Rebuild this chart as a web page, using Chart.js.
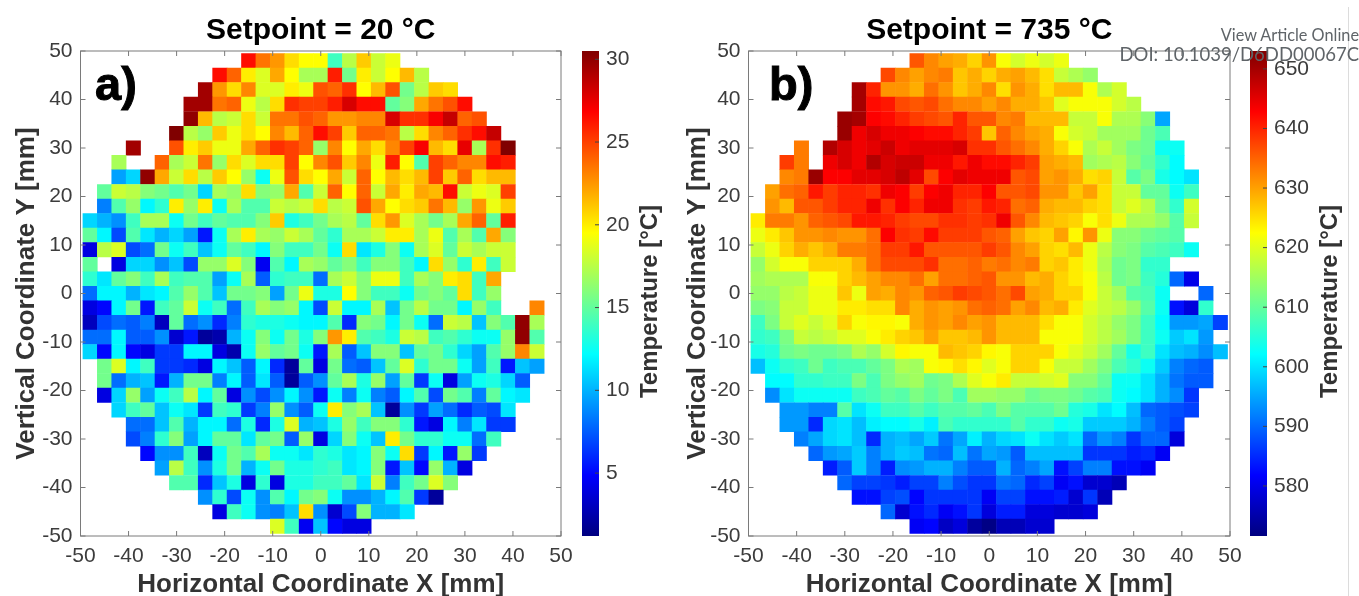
<!DOCTYPE html>
<html><head><meta charset="utf-8">
<script src="https://cdn.jsdelivr.net/npm/chart.js@4"></script>
<style>
html,body{margin:0;padding:0;background:#fff;width:1359px;height:596px;overflow:hidden;font-family:"Liberation Sans",Arial,sans-serif}
canvas{position:absolute;top:0}
#rule{position:absolute;left:1348px;top:7px;width:1px;height:589px;background:#dcdcdc}
.note{position:absolute;right:0;font-family:Lato,sans-serif;color:#5f6468;white-space:nowrap;z-index:5}
</style></head><body>
<canvas id="mapA" width="600" height="596" style="left:0"></canvas>
<canvas id="barA" width="110" height="596" style="left:570px"></canvas>
<canvas id="mapB" width="580" height="596" style="left:680px"></canvas>
<canvas id="barB" width="119" height="596" style="left:1240px"></canvas>
<div id="rule"></div>
<div class="note" style="top:25px;font-size:16.3px">View Article Online</div>
<div class="note" style="top:43px;font-size:18.5px">DOI: 10.1039/D6DD00067C</div>
<script>
const _ = null;
const gridX = [-48,-45,-42,-39,-36,-33,-30,-27,-24,-21,-18,-15,-12,-9,-6,-3,0,3,6,9,12,15,18,21,24,27,30,33,36,39,42,45,48];
const gridY = [48,45,42,39,36,33,30,27,24,21,18,15,12,9,6,3,0,-3,-6,-9,-12,-15,-18,-21,-24,-27,-30,-33,-36,-39,-42,-45,-48];
const axisTicks = [-50,-40,-30,-20,-10,0,10,20,30,40,50];
const ticksA = [5,10,15,20,25,30];
const ticksB = [580,590,600,610,620,630,640,650];
const rangeA = [1.2,30.5];
const rangeB = [571.6,653];
const titleA = "Setpoint = 20 °C", titleB = "Setpoint = 735 °C";
const tempA = [
[_,_,_,_,_,_,_,_,_,_,_,26.5,23.5,22.5,20.5,19.5,19.5,14,17.5,21,18,19],
[_,_,_,_,_,_,_,_,_,26.5,24,20,18.5,22,19.5,17,17,26,15.5,20,18,19.5,21.5,17.5],
[_,_,_,_,_,_,_,_,29.5,22.5,20.5,23,18.5,18.5,20,19,24.5,24,25.5,19.5,21.5,24.5,15.5,17.5,21,20.5],
[_,_,_,_,_,_,_,29.5,29.5,23.5,24,19,17.5,20.5,25.5,25,25,26,28,26.5,26.5,15,16,22,23.5,24.5,26.5],
[_,_,_,_,_,_,_,30,21.5,17.5,18,20.5,18,23.5,23.5,24.5,24,22.5,22.5,23,23,28,25.5,25.5,27,28.5,24,24.5],
[_,_,_,_,_,_,30.5,17.5,16.5,21,19,20.5,19.5,23,21.5,24,26.5,25,21,24,24,23.5,17.5,20.5,23,24,25.5,26.5,28.5],
[_,_,_,29.5,_,_,24.5,20,21,19,19,22,24,25.5,25,24,16.5,23,19.5,22,20.5,23,25,27,21.5,20.5,27.5,17,25.5,30.5],
[_,_,17,_,_,24,17,18,23.5,16.5,20.5,18.5,20.5,20.5,25,19.5,23,24.5,21,23,19,26,19.5,14.5,25,24,23,23,26.5,26],
[_,_,9.5,11,30,22,18,20.5,17.5,21,19.5,16.5,12.5,19,24.5,20.5,19.5,22,18,24,19.5,21.5,20.5,21.5,25,21,24,20.5,21.5,21.5],
[_,15,18,17.5,16,15.5,14.5,15.5,11,17,16.5,20.5,16,16.5,22,14.5,18,24,19.5,24,18,22,20,22,21.5,26.5,18,19,18.5,25],
[_,8.5,14.5,16.5,12,13.5,20,16.5,20,12.5,17,14.5,14.5,18,17.5,18,20.5,17.5,18,24.5,22,19.5,20.5,21,23.5,21.5,16.5,22.5,19,21],
[11,10,9,14,17,17,12.5,15.5,14,15,14.5,14.5,16,21,13,14,15.5,17,17.5,15,20.5,22.5,18.5,17,15.5,17,22,24,15,26],
[15,12,7,14.5,11.5,10,11,9.5,5.5,12.5,17,20,17,16.5,18,17,15,13.5,17,17,18,20,20,17,19,14.5,17,14.5,22,16],
[4,17.5,18.5,7,8,15.5,12.5,14,10.5,12.5,15,14,12,16,14,14,15.5,12.5,20.5,11.5,13,16,12.5,17,18.5,15,18,17,18,18],
[15,_,4,11,11,9,10.5,7,16.5,16.5,18.5,16,4.5,14.5,12,17,16.5,15,16,14,16,16,14,12,20.5,16.5,13.5,20,14,18],
[13.5,11.5,15,16,14,17,14,14.5,14.5,9.5,12.5,17,7.5,13.5,14,14,8,17,18,16,19,19,14,17,16,20,20.5,14,22],
[8,12,12,10,11.5,12,14.5,16.5,14.5,10.5,15.5,15.5,16,9.5,15.5,19,13,13,19.5,16,14,14,12.5,15.5,16,15,20.5,14,16.5],
[4,5,12,15.5,5.5,14,15,18,12.5,14,8,14,17,16,16.5,12,7,18,12,12,17,10.5,15.5,17.5,15.5,15.5,12,16.5,14,_,_,23],
[3,7,8,7.5,8.5,3,15,8,9,6,8.5,13.5,13,13,12.5,12,12,14.5,6,16,15.5,12,15.5,12.5,8,18,17.5,10.5,16,14.5,30,17],
[8,8,12,7.5,7.5,9,3.5,5.5,2,2.5,10,12.5,16,12.5,15.5,13,16,22.5,20,14.5,14,13,18,17.5,14,14.5,13.5,12.5,12.5,16.5,30,14.5],
[11,5,12,5,4,6.5,6.5,12,12,4,2.5,12.5,16.5,15,15.5,12.5,5.5,17,7.5,10.5,16,16,10.5,15,15.5,13.5,11,9.5,14.5,16.5,23,18],
[_,15.5,18.5,12,14,6.5,6.5,6,4,12,10.5,7.5,12,6,2,15,4,15.5,8,7.5,10.5,15,18.5,13.5,15.5,15.5,12.5,9.5,14,5.5,10.5,9.5],
[_,15.5,8,10,10.5,5.5,10,15.5,15.5,8.5,12,7.5,11.5,7.5,2,7.5,9,15,17,13,16.5,9.5,15,6.5,12.5,4,9.5,12.5,13,11,7.5],
[_,4,11,16.5,9.5,12.5,14,17.5,12,15,4,9,7,9,12,9,5.5,12.5,8.5,12.5,8.5,7.5,12,14.5,7,15.5,14.5,8.5,15,12,11.5],
[_,_,11,14,15,10.5,12.5,11.5,6.5,14,13.5,6.5,8.5,16.5,9,7.5,12.5,20,16,17,10.5,2,9,6.5,9.5,8,6,7.5,7,11.5],
[_,_,_,8,8,10.5,14.5,10,12,12,8,13,6,13,18.5,10,10.5,13,16.5,14,16,16,13.5,5.5,4,12,8.5,11.5,6.5,6.5],
[_,_,_,7,8.5,13.5,16,9.5,12,15,15,11.5,15,15.5,7.5,16.5,4,11,16,12.5,10.5,20,15.5,13.5,13.5,12.5,12.5,8,14],
[_,_,_,_,5,9,9,14,3,12.5,15.5,14.5,17,12.5,12.5,11.5,13.5,13,11.5,12,16,12.5,20.5,6.5,12,5.5,16.5,6.5],
[_,_,_,_,_,9.5,17.5,14,9,13,15.5,10,12.5,15.5,13,13,13.5,14,11.5,12,16,5.5,10.5,5,16.5,10,4],
[_,_,_,_,_,_,14.5,14.5,6,10.5,13,4,13.5,4,13,13,14,14,15,11.5,18,8.5,14,15.5,18.5,16],
[_,_,_,_,_,_,_,_,9,13.5,7,12.5,9,14.5,12,15.5,16,12.5,9,9,10,12,14.5,6.5,2],
[_,_,_,_,_,_,_,_,_,4,14,12.5,9,8.5,10.5,20.5,9,3.5,7,16,10,10,11.5],
[_,_,_,_,_,_,_,_,_,_,_,_,_,18.5,14,4.5,10.5,5,4,4]
];
const tempB = [
[_,_,_,_,_,_,_,_,_,_,_,636,632,630,629,626,631,622,619,621,619,621],
[_,_,_,_,_,_,_,_,_,637,632,630,632,633,627,629,626,629,630,628,625,618,616,614],
[_,_,_,_,_,_,_,650,640,631,631,629,634,631,627,629,632,625,631,629,625,628,628,622,616,619],
[_,_,_,_,_,_,_,650,642,641,637,636,637,634,632,632,630,632,629,629,627,620,622,622,622,619,617],
[_,_,_,_,_,_,651,650,643,642,640,638,637,636,640,636,636,632,633,628,628,628,618,618,622,616,616,613,595],
[_,_,_,_,_,_,651,644,646,644,644,643,642,642,640,638,627,635,632,630,629,622,619,618,615,615,615,611,608],
[_,_,_,633,_,649,646,644,645,647,644,645,645,645,646,639,639,636,634,632,629,626,622,616,618,615,612,611,603,603],
[_,_,638,633,_,644,646,644,649,646,647,647,644,644,641,644,642,642,640,638,630,629,628,615,616,617,613,610,606,602],
[_,_,632,633,651,643,643,645,645,646,648,645,637,643,645,644,644,644,636,637,630,631,629,625,626,618,609,612,604,602,600],
[_,630,634,635,641,638,640,640,639,644,643,638,643,644,640,640,643,636,636,637,631,631,627,630,625,618,618,610,610,603,607],
[_,631,628,636,636,638,640,640,644,639,643,640,644,644,639,638,641,640,634,635,629,628,628,626,625,618,620,617,611,606,619],
[624,633,633,631,635,636,637,641,641,640,638,637,637,639,639,638,639,644,636,632,628,627,626,622,625,621,616,616,614,609,618],
[621,624,627,631,631,632,631,631,634,643,639,638,642,638,638,638,636,635,630,627,626,630,623,631,621,613,613,611,610,609],
[618,621,626,629,627,629,633,633,634,638,638,641,636,636,636,636,638,636,632,630,626,625,628,621,617,613,612,609,608,607,603],
[614,619,622,622,626,626,626,629,634,637,637,637,639,634,634,635,633,634,632,633,626,627,624,621,616,611,612,606,606],
[615,616,616,616,622,622,626,628,630,632,632,634,630,634,634,635,636,631,631,628,629,626,624,622,617,611,612,607,605,590,580],
[614,614,617,618,621,621,627,621,630,629,632,631,635,636,638,637,636,634,637,630,629,626,626,622,618,615,609,608,603,_,_,590],
[612,613,618,618,621,621,624,624,625,625,632,629,631,630,631,634,635,634,630,632,628,629,624,620,618,617,614,609,603,583,579,606],
[607,612,618,620,618,620,626,622,623,623,622,629,631,630,632,630,631,628,628,628,625,622,622,619,617,614,612,607,602,594,594,595,587],
[606,607,612,618,617,618,620,620,622,624,626,627,630,627,627,628,631,628,628,628,622,622,622,619,617,615,612,607,603,598,600,594],
[604,605,611,612,611,611,612,616,614,619,623,622,622,628,627,626,623,622,626,626,626,622,620,618,615,610,604,607,600,597,596,593,597],
[597,603,606,607,611,607,608,608,610,612,616,615,622,623,625,623,620,622,626,626,622,618,618,615,612,608,606,603,598,592,590,589],
[_,602,602,606,606,607,607,612,608,612,614,615,611,612,616,620,622,624,618,618,619,620,613,613,610,603,603,600,596,591,589,589],
[_,593,600,603,603,603,603,607,608,610,609,612,610,612,608,615,615,614,614,611,612,612,611,609,608,603,602,600,596,593,586],
[_,_,594,594,592,592,609,600,603,607,607,609,607,609,609,610,608,612,609,609,609,611,605,604,600,602,597,590,589,588,587],
[_,_,594,594,585,599,600,597,601,602,602,604,601,608,606,606,606,606,609,606,606,603,604,598,598,598,596,592,589,587],
[_,_,_,592,595,599,600,597,585,596,597,595,598,591,595,601,596,599,600,603,600,598,600,590,594,592,586,590,590,579],
[_,_,_,_,590,594,595,598,592,596,598,597,591,590,597,591,595,594,589,597,597,597,597,586,586,586,584,585,581],
[_,_,_,_,_,584,589,598,592,584,593,594,596,596,592,589,589,596,590,592,595,583,587,592,592,583,583,581],
[_,_,_,_,_,_,590,587,587,586,584,587,587,592,588,586,586,591,590,585,587,581,583,578,578,576],
[_,_,_,_,_,_,_,583,583,587,588,582,586,586,586,586,581,587,587,583,583,584,578,586,576],
[_,_,_,_,_,_,_,_,_,590,578,583,585,581,583,586,579,584,584,579,579,578,578,579],
[_,_,_,_,_,_,_,_,_,_,_,581,582,577,579,574,572,576,576,578,578]
];

const FONT = '"Liberation Sans", Arial, sans-serif';
const TEXT = '#3c3c3c';
function jet(t){
  const c = v => Math.round(255*Math.max(0,Math.min(1,1.5-Math.abs(4*t-v))));
  return `rgb(${c(3)},${c(2)},${c(1)})`;
}
function cells(rows){
  const out = [];
  rows.forEach((row,r)=>row.forEach((v,c)=>{ if(v!==null) out.push({x:gridX[c],y:gridY[r],v}); }));
  return out;
}
const frame = (letter,lx,ly) => ({
  id:'frame',
  afterDatasetsDraw(chart){
    const {ctx,chartArea:a,scales:{x,y}} = chart;
    ctx.save();
    ctx.strokeStyle='#7a7a7a'; ctx.lineWidth=1;
    ctx.strokeRect(a.left,a.top,a.right-a.left,a.bottom-a.top);
    ctx.beginPath();
    axisTicks.forEach(v=>{
      const px=x.getPixelForValue(v), py=y.getPixelForValue(v);
      ctx.moveTo(px,a.bottom);ctx.lineTo(px,a.bottom-5);
      ctx.moveTo(px,a.top);ctx.lineTo(px,a.top+5);
      ctx.moveTo(a.left,py);ctx.lineTo(a.left+5,py);
      ctx.moveTo(a.right,py);ctx.lineTo(a.right-5,py);
    });
    ctx.stroke();
    ctx.font='bold 47px '+FONT; ctx.fillStyle='#000'; ctx.strokeStyle='#000'; ctx.lineWidth=1;
    ctx.textAlign='left'; ctx.textBaseline='alphabetic';
    ctx.fillText(letter,lx,ly); ctx.strokeText(letter,lx,ly);
    ctx.restore();
  }
});
function makeMap(id,rows,range,title,letter,o){
  new Chart(document.getElementById(id),{
    type:'scatter',
    data:{datasets:[{
      label:title,
      data:cells(rows),
      pointStyle:'rect',
      borderWidth:0,
      pointBorderWidth:0,
      pointRadius:c=>{const s=c.chart.scales.y;return 1.03*Math.abs(s.getPixelForValue(3)-s.getPixelForValue(0))/Math.SQRT2;},
      pointBackgroundColor:c=>jet((c.raw.v-range[0])/(range[1]-range[0])),
      pointHoverRadius:0
    }]},
    options:{
      responsive:false,animation:false,
      layout:{padding:{left:0,right:o.right,top:0,bottom:0}},
      plugins:{legend:{display:false},tooltip:{enabled:false},
        title:{display:true,text:title,fullSize:false,color:'#000',
          font:{family:FONT,size:o.titleSize,weight:'bold',lineHeight:1.2},
          padding:{top:51-o.titleSize*1.2-2,bottom:2}}},
      scales:{
        x:{type:'linear',min:-50,max:50,
          afterBuildTicks:s=>{s.ticks=axisTicks.map(value=>({value}));},
          afterFit:s=>{s.height=60;s.paddingLeft=0;s.paddingRight=0;},
          grid:{display:false,drawTicks:false},border:{display:false},
          ticks:{autoSkip:false,maxRotation:0,padding:8,color:TEXT,font:{family:FONT,size:21}},
          title:{display:true,text:'Horizontal Coordinate X [mm]',color:'#333',font:{family:FONT,size:o.axisSize,weight:'bold'},padding:{top:0,bottom:-4.6}}},
        y:{type:'linear',min:-50,max:50,
          afterBuildTicks:s=>{s.ticks=axisTicks.map(value=>({value}));},
          afterFit:s=>{s.width=o.left;s.paddingTop=0;s.paddingBottom=0;},
          grid:{display:false,drawTicks:false},border:{display:false},
          ticks:{autoSkip:false,padding:8,color:TEXT,font:{family:FONT,size:21}},
          title:{display:true,text:'Vertical Coordinate Y [mm]',color:'#333',font:{family:FONT,size:o.axisSize,weight:'bold'},padding:{top:o.ytitle,bottom:0}}}
      }
    },
    plugins:[frame(letter,o.lx,o.ly)]
  });
}
function makeBar(id,range,ticks,o){
  new Chart(document.getElementById(id),{
    type:'bar',
    data:{labels:['Temperature'],datasets:[{
      label:'Temperature [°C]',
      data:[range],
      barPercentage:1,categoryPercentage:1,borderWidth:0,
      backgroundColor:c=>{
        const a=c.chart.chartArea; if(!a) return '#888';
        const g=c.chart.ctx.createLinearGradient(0,a.bottom,0,a.top);
        for(let i=0;i<=32;i++) g.addColorStop(i/32,jet(i/32));
        return g;
      }
    }]},
    options:{
      responsive:false,animation:false,
      layout:{padding:{left:o.pad,right:0,top:51,bottom:60}},
      plugins:{legend:{display:false},tooltip:{enabled:false}},
      scales:{
        x:{display:false},
        y:{type:'linear',position:'right',min:range[0],max:range[1],
          afterBuildTicks:s=>{s.ticks=ticks.map(value=>({value}));},
          afterFit:s=>{s.width=o.w;s.paddingTop=0;s.paddingBottom=0;},
          grid:{display:false,drawTicks:false},border:{display:false},
          ticks:{autoSkip:false,padding:7,color:TEXT,font:{family:FONT,size:21}}}
      }
    },
    plugins:[{id:'cb',afterDatasetsDraw(chart){
      const {ctx,chartArea:a,scales:{y}}=chart;
      ctx.save();
      ctx.strokeStyle='#444';ctx.lineWidth=1;
      ctx.beginPath();
      ticks.forEach(v=>{const p=y.getPixelForValue(v);ctx.moveTo(a.right,p);ctx.lineTo(a.right-4,p);});
      ctx.stroke();
      ctx.translate(o.tx,(a.top+a.bottom)/2+o.ty);ctx.rotate(-Math.PI/2);
      ctx.font='bold '+o.size+'px '+FONT;ctx.fillStyle='#333';ctx.textAlign='center';ctx.textBaseline='middle';
      ctx.fillText('Temperature [°C]',0,0);
      ctx.restore();
    }}]
  });
}
makeMap('mapA',tempA,rangeA,titleA,'a)',{left:80.5,right:39,titleSize:30,axisSize:26,ytitle:11.5,lx:95,ly:100});
makeMap('mapB',tempB,rangeB,titleB,'b)',{left:68.5,right:30,titleSize:30,axisSize:26,ytitle:2.4,lx:89,ly:100});
makeBar('barA',rangeA,ticksA,{pad:12,w:81,tx:80,ty:8,size:24});
makeBar('barB',rangeB,ticksB,{pad:10,w:92,tx:90,ty:8,size:24});
</script>
</body></html>
